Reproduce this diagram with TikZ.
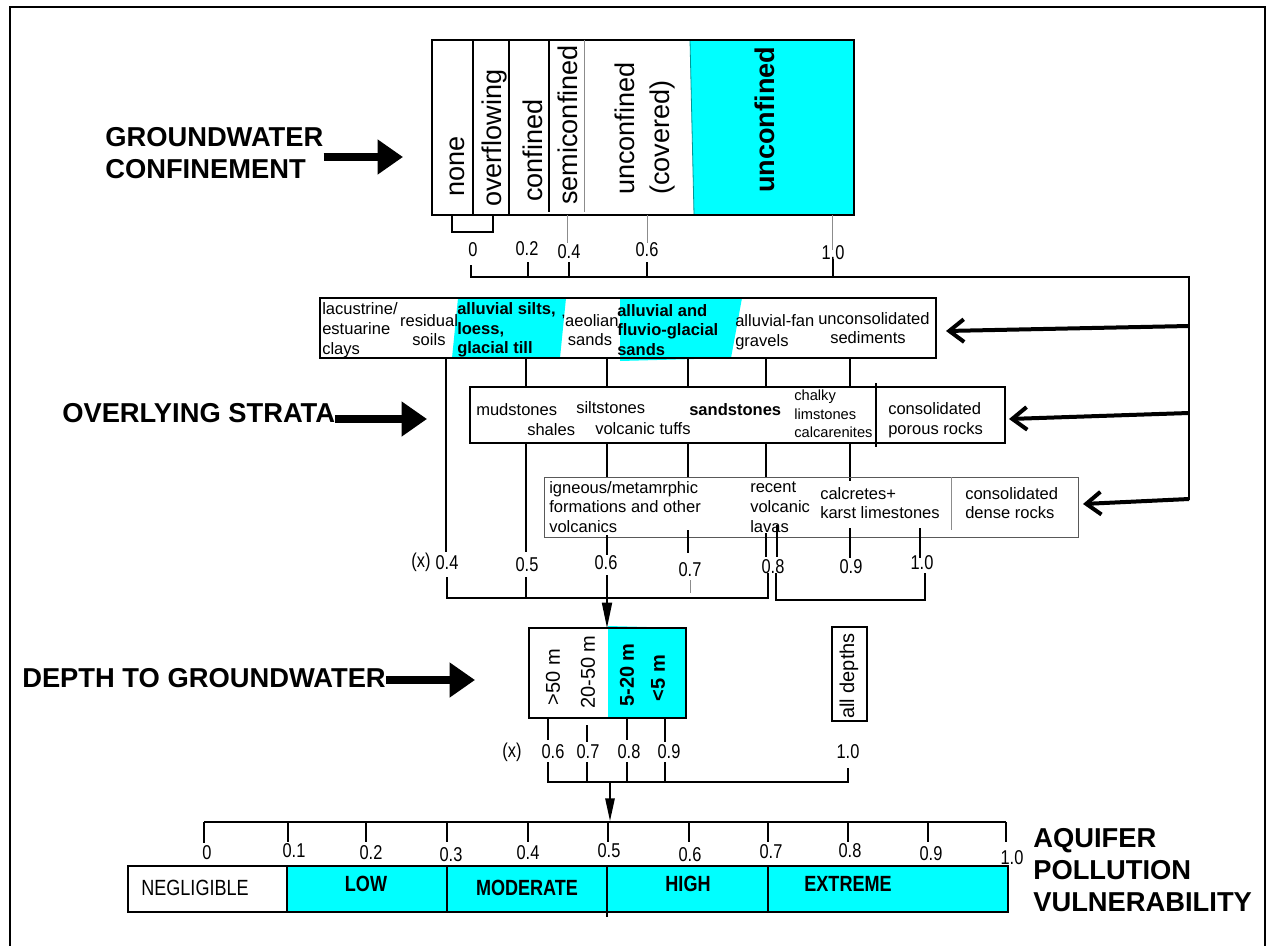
\documentclass[tikz,border=0pt]{standalone}
\usepackage{fontspec}
\setmainfont{Liberation Sans}
\newfontfamily\narrowfont[FakeStretch=0.82]{Liberation Sans}
\usetikzlibrary{arrows.meta}
\definecolor{aqua}{RGB}{0,255,255}
\definecolor{aquaedge}{RGB}{0,150,150}

\tikzset{
  heading/.style={font=\fontsize{20.5}{24.5}\selectfont\bfseries, align=left, anchor=west, inner sep=0pt},
  bigarrow/.style={line width=6.5pt, -{Triangle[length=19pt,width=25pt]}},
  feedarrow/.style={line width=3pt, -{Straight Barb[length=11pt,width=17pt]}},
  boxline/.style={line width=1.5pt},
  tick/.style={line width=1.3pt},
  thinline/.style={line width=0.6pt, black!45},
  conflabel/.style={rotate=90, anchor=west, inner sep=0pt, align=left, font=\fontsize{20.3}{26}\selectfont},
  depthlabel/.style={rotate=90, inner sep=0pt, font=\fontsize{15}{18}\selectfont},
  strat/.style={inner sep=0pt, anchor=west, align=left, font=\fontsize{12.4}{14.8}\selectfont},
  num/.style={inner sep=0pt, font=\narrowfont\fontsize{15}{18}\selectfont},
  class/.style={inner sep=0pt, font=\narrowfont\fontsize{16.5}{20}\selectfont},
}

\begin{document}
\begin{tikzpicture}[x=0.75pt,y=-0.75pt]
  %%%%% START %%%%%
  \useasboundingbox (0,0) rectangle (1269,945);
  \draw[line width=2.2pt] (10,7) rectangle (1265,952);

  % left headings
  \node[heading] (conf) at (105,153) {GROUNDWATER\\CONFINEMENT};
  \node[heading] (strata) at (62,413) {OVERLYING STRATA};
  \node[heading] (depth) at (22,678) {DEPTH TO GROUNDWATER};
  \node[heading, font=\fontsize{20.5}{24.3}\selectfont\bfseries] (vuln) at (1033,870) {AQUIFER\\POLLUTION\\VULNERABILITY};
  \coordinate (confhead) at (403,157);
  \coordinate (stratahead) at (427,419);
  \coordinate (depthhead) at (475,680);
  \draw[bigarrow] (conf.east |- confhead) -- (confhead);
  \draw[bigarrow] (strata.east |- stratahead) -- (stratahead);
  \draw[bigarrow] (depth.east |- depthhead) -- (depthhead);

  % confinement box
  \fill[aqua] (690,40) -- (854,40) -- (854,215) -- (694,215) -- cycle;
  \draw[thinline, aquaedge] (690,40) -- (694,215);
  \draw[boxline] (432,40) rectangle (854,215);
  \draw[boxline] (473,40) -- (473,215);
  \draw[boxline] (509,40) -- (509,215);
  \draw[boxline] (549,40) -- (549,212);
  \draw[thinline] (584,40) -- (584,212);
  \node[conflabel] (none) at (457,197) {none};
  \node[conflabel] (overfl) at (494,207) {overflowing};
  \node[conflabel] (confd) at (533,202) {confined};
  \node[conflabel] (semic) at (568,205) {semiconfined};
  \node[conflabel] (covered) at (645,195) {unconfined\\(covered)};
  \node[conflabel, font=\fontsize{20.3}{26}\selectfont\bfseries] (unconf) at (765,193) {unconfined};

  \draw[tick] (452,215) -- (452,232) -- (493,232) -- (493,215);
  \draw[thinline] (567,215) -- (567,243);
  \draw[thinline] (647,215) -- (647,243);
  \draw[thinline] (832,215) -- (832,250);
  \node[num] (t0) at (473,250) {0};
  \node[num] (t2) at (527,249) {0.2};
  \node[num] (t4) at (569,252) {0.4};
  \node[num] (t6) at (647,250) {0.6};
  \node[num] (t10) at (833,253) {1.0};
  \draw[tick] (471,265) -- (471,277) -- (1189,277) -- (1189,500);
  \draw[tick] (528,262) -- (528,277);
  \draw[tick] (569,262) -- (569,277);
  \draw[tick] (647,262) -- (647,277);
  \draw[tick] (833,259) -- (833,277);

  % feed arrows into the strata boxes
  \draw[feedarrow] (1189,326) -- (946,331);
  \draw[feedarrow] (1189,413) -- (1009,419);
  \draw[feedarrow] (1189,499) -- (1083,504);

  % unconsolidated sediments
  \fill[aqua] (458,298) -- (566,298) -- (560,358) -- (452,358) -- cycle;
  \fill[aqua] (620,298) -- (742,298) -- (731,358) -- (620,361) -- cycle;
  \draw[boxline] (320,298) rectangle (936,358);
  \node[strat] (lacus) at (322,330) {lacustrine/\\estuarine\\clays};
  \node[strat, anchor=center, align=center] (resid) at (429,330) {residual\\soils};
  \node[strat, font=\fontsize{12.4}{14.8}\selectfont\bfseries] (silts) at (457,330) {alluvial silts,\\loess,\\glacial till};
  \node[strat, anchor=center, align=center] (aeol) at (590,330) {’aeolian\\sands};
  \node[strat, font=\fontsize{12.4}{14.8}\selectfont\bfseries] (fluvio) at (617,330) {alluvial and\\fluvio-glacial\\sands};
  \node[strat] (fan) at (735,332) {alluvial-fan\\gravels};
  \node[strat] (unsed) at (818,328) {unconsolidated\\\hspace*{9pt}sediments};

  \draw[tick] (446,358) -- (446,552);
  \draw[tick] (526,358) -- (526,387);
  \draw[tick] (607,358) -- (607,387);
  \draw[tick] (688,358) -- (688,387);
  \draw[tick] (766,358) -- (766,387);
  \draw[tick] (850,358) -- (850,387);

  % consolidated porous rocks
  \draw[boxline] (470,387) rectangle (1005,443);
  \draw[boxline] (876,383) -- (876,447);
  \node[strat] (mud) at (476,410) {mudstones};
  \node[strat] (shale) at (527,430) {shales};
  \node[strat] (silt) at (576,408) {siltstones};
  \node[strat] (tuff) at (595,429) {volcanic tuffs};
  \node[strat, font=\fontsize{12.4}{14.8}\selectfont\bfseries] (sand) at (689,410) {sandstones};
  \node[strat, font=\fontsize{11}{14}\selectfont] (chalk) at (794,414) {chalky\\limstones\\calcarenites};
  \node[strat] (porous) at (888,420) {consolidated\\porous rocks};

  \draw[tick] (526,443) -- (526,552);
  \draw[tick] (607,443) -- (607,477);
  \draw[tick] (688,443) -- (688,477);
  \draw[tick] (766,443) -- (766,477);
  \draw[tick] (850,443) -- (850,481);

  % consolidated dense rocks
  \draw[line width=0.7pt, black!65] (544,477) rectangle (1078,537);
  \draw[thinline] (951,477) -- (951,530);
  \node[strat] (igneous) at (549,507) {igneous/metamrphic\\formations and other\\volcanics};
  \node[strat] (lavas) at (750,507) {recent\\volcanic\\lavas};
  \node[strat] (karst) at (820,503) {calcretes+\\karst limestones};
  \node[strat] (dense) at (965,503) {consolidated\\dense rocks};

  \draw[tick] (607,535) -- (607,555);
  \draw[tick] (688,530) -- (688,553);
  \draw[tick] (766,533) -- (766,557);
  \draw[tick] (777,525) -- (777,557);
  \draw[tick] (850,528) -- (850,558);
  \draw[tick] (920,528) -- (920,558);

  \node[num] (sx) at (421,562) {(x)};
  \node[num] (s4) at (447,563) {0.4};
  \node[num] (s5) at (527,565) {0.5};
  \node[num] (s6) at (606,563) {0.6};
  \node[num] (s7) at (690,570) {0.7};
  \node[num] (s8) at (773,567) {0.8};
  \node[num] (s9) at (851,567) {0.9};
  \node[num] (s10) at (922,563) {1.0};

  \draw[tick] (447,577) -- (447,598) -- (768,598) -- (768,573);
  \draw[tick] (526,577) -- (526,598);
  \draw[tick] (607,575) -- (607,598);
  \draw[thinline] (690,580) -- (690,593);
  \draw[tick] (776,573) -- (776,600) -- (925,600) -- (925,573);
  \draw[tick, -{Triangle[length=19pt,width=7.5pt]}] (607,598) -- (607,628);

  % depth to groundwater
  \fill[aqua] (608,626) -- (686,628) -- (686,718) -- (608,718) -- cycle;
  \draw[boxline] (529,628) rectangle (686,718);
  \node[depthlabel] (d50) at (553,677) {>50 m};
  \node[depthlabel] (d20) at (588,672) {20-50 m};
  \node[depthlabel, font=\fontsize{15}{18}\selectfont\bfseries] (d5) at (627,675) {5-20 m};
  \node[depthlabel, font=\fontsize{15}{18}\selectfont\bfseries] (d0) at (658,678) {<5 m};
  \draw[boxline] (832,627) rectangle (867,721);
  \node[depthlabel] (dall) at (849,676) {all depths};

  \draw[tick] (548,718) -- (548,740);
  \draw[tick] (587,725) -- (587,742);
  \draw[tick] (627,718) -- (627,740);
  \draw[tick] (665,718) -- (665,742);
  \node[num] (dx) at (512,752) {(x)};
  \node[num] (e6) at (553,752) {0.6};
  \node[num] (e7) at (588,752) {0.7};
  \node[num] (e8) at (629,752) {0.8};
  \node[num] (e9) at (669,752) {0.9};
  \node[num] (e10) at (848,752) {1.0};
  \draw[tick] (548,762) -- (548,782) -- (848,782) -- (848,768);
  \draw[tick] (587,762) -- (587,782);
  \draw[tick] (627,762) -- (627,782);
  \draw[tick] (665,762) -- (665,782);
  \draw[tick, -{Triangle[length=17pt,width=7pt]}] (610,782) -- (610,821);

  % vulnerability scale
  \draw[tick] (204,822) -- (1006,822);
  \draw[tick] (204,822) -- (204,843);
  \draw[tick] (288,822) -- (288,842);
  \draw[tick] (366,822) -- (366,842);
  \draw[tick] (447,822) -- (447,842);
  \draw[tick] (528,822) -- (528,842);
  \draw[tick] (608,822) -- (608,842);
  \draw[tick] (689,822) -- (689,842);
  \draw[tick] (768,822) -- (768,842);
  \draw[tick] (848,822) -- (848,842);
  \draw[tick] (928,822) -- (928,842);
  \draw[tick] (1006,822) -- (1006,842);
  \node[num] (v0) at (207,853) {0};
  \node[num] (v1) at (294,851) {0.1};
  \node[num] (v2) at (371,853) {0.2};
  \node[num] (v3) at (451,855) {0.3};
  \node[num] (v4) at (528,853) {0.4};
  \node[num] (v5) at (609,851) {0.5};
  \node[num] (v6) at (690,855) {0.6};
  \node[num] (v7) at (771,852) {0.7};
  \node[num] (v8) at (850,851) {0.8};
  \node[num] (v9) at (931,854) {0.9};
  \node[num] (v10) at (1012,858) {1.0};

  \fill[aqua] (287,866) rectangle (1008,912);
  \draw[boxline] (128,866) rectangle (1008,912);
  \draw[boxline] (287,866) -- (287,912);
  \draw[boxline] (447,866) -- (447,912);
  \draw[boxline] (607,866) -- (607,917);
  \draw[boxline] (768,866) -- (768,912);
  \node[class] (negl) at (195,888) {NEGLIGIBLE};
  \node[class, font=\narrowfont\fontsize{16.5}{20}\selectfont\bfseries] (low) at (366,884) {LOW};
  \node[class, font=\narrowfont\fontsize{16.5}{20}\selectfont\bfseries] (moder) at (527,888) {MODERATE};
  \node[class, font=\narrowfont\fontsize{16.5}{20}\selectfont\bfseries] (high) at (688,884) {HIGH};
  \node[class, font=\narrowfont\fontsize{16.5}{20}\selectfont\bfseries] (extr) at (848,884) {EXTREME};
  %%%%% END %%%%%
\end{tikzpicture}
\end{document}
